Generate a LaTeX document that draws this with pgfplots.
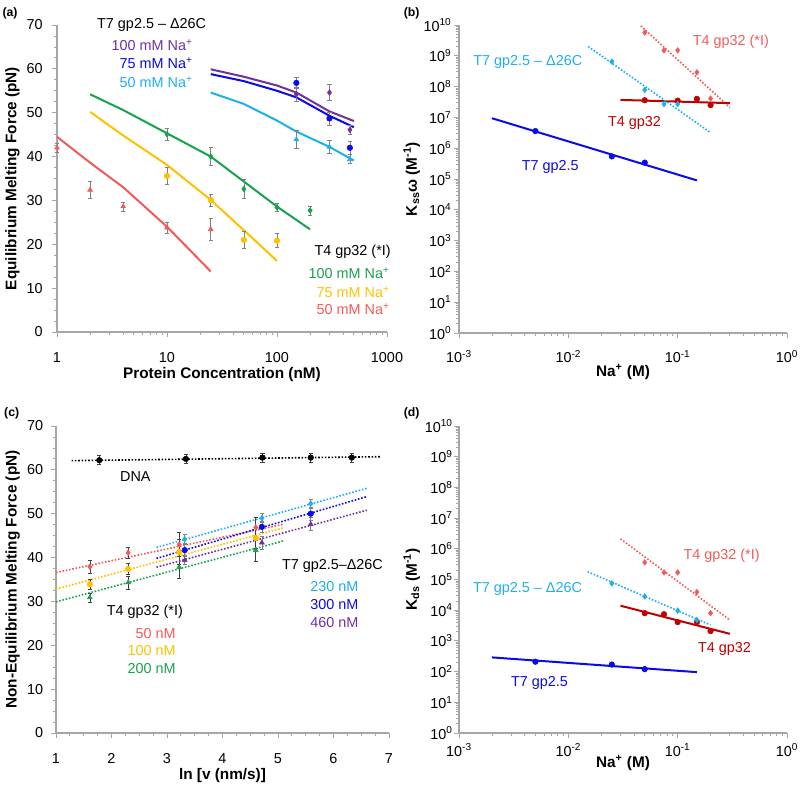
\documentclass[border=0pt]{standalone}
\usepackage{fontspec}
\setmainfont{Liberation Sans}
\usepackage{pgfplots}
\pgfplotsset{compat=1.18}
\definecolor{cpur}{HTML}{7030A0}
\definecolor{cblu}{HTML}{0A0AEB}
\definecolor{ccya}{HTML}{1CB0EC}
\definecolor{cgrn}{HTML}{17A24B}
\definecolor{cyel}{HTML}{FFC000}
\definecolor{cred}{HTML}{F25A5A}
\definecolor{cdred}{HTML}{C00000}
\definecolor{caxis}{HTML}{A6A6A6}
\newcommand{\tf}{\fontsize{10.8}{12}\selectfont}
\newcommand{\lf}{\fontsize{11.5}{13}\selectfont\bfseries}
\newcommand{\Na}{Na\textsuperscript{+}}
\newcommand{\sq}[1]{10\textsuperscript{#1}}
\tikzset{ann/.style={font=\tf, inner sep=0pt}}
\pgfplotsset{
  base/.style={scale only axis, anchor=south west, clip=false,
    axis x line*=bottom, axis y line*=left,
    axis line style={caxis, line width=0.8pt},
    tick style={caxis, line width=0.6pt},
    tick align=outside, major tick length=4pt, minor tick length=2.5pt,
    ticklabel style={font=\tf, text=black},
    /pgf/number format/assume math mode=true,
    label style={font=\lf},
    xticklabel style={anchor=north, inner sep=0pt},
    yticklabel style={anchor=east, inner sep=0pt},
  },
  logticks/.style={xmin=1e-3, xmax=1,
    xtick={1e-3,1e-2,1e-1,1}, xticklabels={\sq{-3},\sq{-2},\sq{-1},\sq{0}},
    minor xtick={2e-3,3e-3,4e-3,5e-3,6e-3,7e-3,8e-3,9e-3,0.02,0.03,0.04,0.05,0.06,0.07,0.08,0.09,0.2,0.3,0.4,0.5,0.6,0.7,0.8,0.9},
    ymin=1, ymax=1e10,
    ytick={1,1e1,1e2,1e3,1e4,1e5,1e6,1e7,1e8,1e9,1e10},
    yticklabels={\sq{0},\sq{1},\sq{2},\sq{3},\sq{4},\sq{5},\sq{6},\sq{7},\sq{8},\sq{9},\sq{10}},
    minor ytick={2,3,4,5,6,7,8,9,20,30,40,50,60,70,80,90,200,300,400,500,600,700,800,900,2e3,3e3,4e3,5e3,6e3,7e3,8e3,9e3,2e4,3e4,4e4,5e4,6e4,7e4,8e4,9e4,2e5,3e5,4e5,5e5,6e5,7e5,8e5,9e5,2e6,3e6,4e6,5e6,6e6,7e6,8e6,9e6,2e7,3e7,4e7,5e7,6e7,7e7,8e7,9e7,2e8,3e8,4e8,5e8,6e8,7e8,8e8,9e8,2e9,3e9,4e9,5e9,6e9,7e9,8e9,9e9},
    xlabel={\Na\ (M)},
  },
  fitl/.style={line width=1.5pt},
  dotl/.style={line width=1.2pt, dash pattern=on 1.2pt off 1.3pt},
  mk/.style={only marks, mark size=2.1pt},
  eb/.style={error bars/.cd, y dir=both, y explicit, error bar style={#1, line width=0.5pt}, error mark options={#1, line width=0.5pt, mark size=1.6pt, rotate=90}},
}
\begin{document}
\begin{tikzpicture}
% ---------------- (a)
\begin{axis}[base, at={(42.75pt,340.5pt)}, width=247.5pt, height=230.25pt,
  xmode=log, xmin=1, xmax=1000, xtick={1,10,100,1000}, xticklabels={1,10,100,1000},
  minor xtick={2,3,4,5,6,7,8,9,20,30,40,50,60,70,80,90,200,300,400,500,600,700,800,900},
  ymin=0, ymax=70, ytick={0,10,...,70}, minor y tick num=3,
  xticklabel style={yshift=-11.25pt}, yticklabel style={xshift=-6.5pt},
  xlabel={Protein Concentration (nM)}, ylabel={Equilibrium Melting Force (pN)},
  xlabel style={at={(axis description cs:0.5,-0.137)}, anchor=center},
  ylabel style={at={(axis description cs:-0.135,0.5)}, anchor=center},
]
\addplot[cred, fitl] coordinates {(1,44.5)(2,38.6)(4,33.0)(10,24.0)(25,13.8)};
\addplot[cyel, fitl] coordinates {(2,50.2)(4,44.8)(10,38.1)(25,30.1)(50,23.2)(100,16.2)};
\addplot[cgrn, fitl] coordinates {(2,54.2)(4,50.6)(10,45.3)(25,40.0)(50,34.3)(100,28.6)(200,23.4)};
\addplot[cpur, fitl] coordinates {(25,59.9)(50,58.2)(100,56.2)(150,54.6)(300,50.3)(500,48.1)};
\addplot[cblu, fitl] coordinates {(25,58.8)(50,57.2)(100,55.0)(150,53.5)(300,49.3)(500,46.7)};
\addplot[ccya, fitl] coordinates {(25,54.6)(50,52.0)(100,48.2)(150,45.7)(300,42.2)(500,39.1)};
\addplot[mk, mark=triangle*, cred, eb=gray] table[y error=e] {
x y e
1 42.0 1.1
2 32.4 2.0
4 28.6 1.0
10 23.8 1.2
25 23.4 2.6
};
\addplot[mk, mark=*, cyel, eb=gray] table[y error=e] {
x y e
10 35.6 2.0
25 30.1 1.4
50 21.0 2.0
100 20.8 1.6
};
\addplot[mk, mark=diamond*, cgrn, eb=gray] table[y error=e] {
x y e
10 45.1 1.4
25 40.0 2.0
50 32.6 2.2
100 28.4 1.0
200 27.7 1.0
};
\addplot[mk, mark=diamond*, cpur, eb=gray] table[y error=e] {
x y e
150 54.2 1.5
300 54.6 1.8
460 46.1 1.0
};
\addplot[mk, mark=*, cblu, eb=gray] table[y error=e] {
x y e
150 56.8 1.3
300 48.7 1.5
460 42.0 1.5
};
\addplot[mk, mark=triangle*, ccya, eb=gray] table[y error=e] {
x y e
150 43.9 2.0
300 42.2 1.5
460 39.4 1.0
};
\node[ann, anchor=west] at (rel axis cs:0.121,1.0) {T7 gp2.5 – Δ26C};
\node[ann, anchor=east, text=cpur] at (rel axis cs:0.412,0.935) {100 mM \Na};
\node[ann, anchor=east, text=cblu] at (rel axis cs:0.412,0.876) {75 mM \Na};
\node[ann, anchor=east, text=ccya] at (rel axis cs:0.412,0.814) {50 mM \Na};
\node[ann, anchor=east] at (rel axis cs:1.012,0.261) {T4 gp32 (*I)};
\node[ann, anchor=east, text=cgrn] at (rel axis cs:1.009,0.192) {100 mM \Na};
\node[ann, anchor=east, text=cyel] at (rel axis cs:1.009,0.130) {75 mM \Na};
\node[ann, anchor=east, text=cred] at (rel axis cs:1.009,0.075) {50 mM \Na};
\end{axis}
% ---------------- (b)
\begin{axis}[base, xmode=log, ymode=log, logticks, at={(344.25pt,339.75pt)}, width=246pt, height=231pt,
  xticklabel style={yshift=-9pt}, yticklabel style={xshift=-1.5pt},
  ylabel={K\textsubscript{ss}ω (M\textsuperscript{-1})},
  xlabel style={at={(axis description cs:0.5,-0.126)}, anchor=center},
  ylabel style={at={(axis description cs:-0.144,0.5)}, anchor=center},
]
\addplot[cred, dotl] coordinates {(0.046,9.3e9)(0.3,2.1e7)};
\addplot[cdred, fitl] coordinates {(0.03,3.7e7)(0.3,2.9e7)};
\addplot[ccya, dotl] coordinates {(0.0152,2e9)(0.2,3.2e6)};
\addplot[cblu, fitl] coordinates {(0.002,9.4e6)(0.15,9e4)};
\addplot[mk, mark=diamond*, cred] coordinates {(0.05,5.7e9)(0.075,1.5e9)(0.1,1.5e9)(0.15,2.9e8)(0.2,4.1e7)};
\addplot[mk, mark=*, cdred] coordinates {(0.05,3.6e7)(0.1,3.5e7)(0.15,4.0e7)(0.2,2.5e7)};
\addplot[mk, mark=diamond*, ccya] coordinates {(0.025,6.5e8)(0.05,7.8e7)(0.075,2.7e7)(0.1,2.7e7)};
\addplot[mk, mark=*, cblu] coordinates {(0.005,3.6e6)(0.025,5.4e5)(0.05,3.4e5)};
\node[ann, anchor=west, text=cred] at (rel axis cs:0.712,0.944) {T4 gp32 (*I)};
\node[ann, anchor=west, text=ccya] at (rel axis cs:0.043,0.879) {T7 gp2.5 – Δ26C};
\node[ann, anchor=west, text=cdred] at (rel axis cs:0.454,0.683) {T4 gp32};
\node[ann, anchor=west, text=cblu] at (rel axis cs:0.191,0.540) {T7 gp2.5};
\end{axis}
% ---------------- (c)
\begin{axis}[base, at={(42pt,39.75pt)}, width=249.75pt, height=230.25pt,
  xmin=1, xmax=7, xtick={1,...,7}, minor x tick num=3,
  ymin=0, ymax=70, ytick={0,10,...,70}, minor y tick num=3,
  xticklabel style={yshift=-11pt}, yticklabel style={xshift=-5.5pt},
  xlabel={ln [v (nm/s)]}, ylabel={Non-Equilibrium Melting Force (pN)},
  xlabel style={at={(axis description cs:0.5,-0.137)}, anchor=center},
  ylabel style={at={(axis description cs:-0.130,0.5)}, anchor=center},
]
\addplot[black, dotl] coordinates {(1.28,62.1)(6.84,63.0)};
\addplot[cred, dotl] coordinates {(1.0,36.6)(5.1,47.6)};
\addplot[cyel, dotl] coordinates {(1.0,32.8)(5.1,46.8)};
\addplot[cgrn, dotl] coordinates {(1.0,29.9)(5.1,43.8)};
\addplot[ccya, dotl] coordinates {(2.81,42.3)(6.60,55.8)};
\addplot[cblu, dotl] coordinates {(2.81,39.8)(6.60,53.9)};
\addplot[cpur, dotl] coordinates {(2.81,37.8)(6.60,50.8)};
\addplot[mk, mark=*, black, eb=darkgray] table[y error=e] {
x y e
1.78 62.2 1.0
3.34 62.5 1.0
4.72 62.8 1.0
5.59 62.8 1.0
6.33 62.8 1.0
};
\addplot[mk, mark=diamond*, cred, eb=darkgray] table[y error=e] {
x y e
1.61 37.9 1.5
2.30 41.1 1.2
3.22 43.0 2.8
4.60 46.9 2.2
};
\addplot[mk, mark=*, cyel, eb=darkgray] table[y error=e] {
x y e
1.61 33.9 1.2
2.30 37.4 1.2
3.22 41.3 2.8
4.60 44.5 2.5
};
\addplot[mk, mark=triangle*, cgrn, eb=darkgray] table[y error=e] {
x y e
1.61 30.9 1.0
2.30 34.3 1.5
3.22 37.8 2.5
4.60 41.7 2.5
};
\addplot[mk, mark=diamond*, ccya, eb=gray] table[y error=e] {
x y e
3.32 44.2 1.2
4.71 49.0 1.0
5.59 52.3 1.0
};
\addplot[mk, mark=*, cblu, eb=gray] table[y error=e] {
x y e
3.32 41.7 1.5
4.71 47.0 1.2
5.59 50.0 1.5
};
\addplot[mk, mark=triangle*, cpur, eb=gray] table[y error=e] {
x y e
3.32 39.4 1.0
4.71 43.4 1.5
5.59 47.6 1.5
};
\node[ann, anchor=west] at (rel axis cs:0.192,0.835) {DNA};
\node[ann, anchor=west] at (rel axis cs:0.152,0.395) {T4 gp32 (*I)};
\node[ann, anchor=east, text=cred] at (rel axis cs:0.360,0.325) {50 nM};
\node[ann, anchor=east, text=cyel] at (rel axis cs:0.360,0.267) {100 nM};
\node[ann, anchor=east, text=cgrn] at (rel axis cs:0.360,0.209) {200 nM};
\node[ann, anchor=west] at (rel axis cs:0.678,0.545) {T7 gp2.5–Δ26C};
\node[ann, anchor=west, text=ccya] at (rel axis cs:0.763,0.477) {230 nM};
\node[ann, anchor=west, text=cblu] at (rel axis cs:0.763,0.419) {300 nM};
\node[ann, anchor=west, text=cpur] at (rel axis cs:0.763,0.361) {460 nM};
\end{axis}
% ---------------- (d)
\begin{axis}[base, xmode=log, ymode=log, logticks, at={(344.25pt,39.75pt)}, width=246pt, height=230.25pt,
  xticklabel style={yshift=-4pt}, yticklabel style={xshift=-0.5pt},
  ylabel={K\textsubscript{ds} (M\textsuperscript{-1})},
  xlabel style={at={(axis description cs:0.5,-0.098)}, anchor=center},
  ylabel style={at={(axis description cs:-0.144,0.5)}, anchor=center},
]
\addplot[cred, dotl] coordinates {(0.03,2.1e6)(0.3,4.8e3)};
\addplot[cdred, fitl] coordinates {(0.03,1.4e4)(0.3,1.7e3)};
\addplot[ccya, dotl] coordinates {(0.015,1.8e5)(0.2,3.3e3)};
\addplot[cblu, fitl] coordinates {(0.002,2.9e2)(0.15,96)};
\addplot[mk, mark=diamond*, cred] coordinates {(0.05,3.6e5)(0.075,1.7e5)(0.1,1.7e5)(0.15,3.9e4)(0.2,8e3)};
\addplot[mk, mark=*, cdred] coordinates {(0.05,8e3)(0.075,7.4e3)(0.1,4.1e3)(0.15,4.1e3)(0.2,2.1e3)};
\addplot[mk, mark=diamond*, ccya] coordinates {(0.025,7.5e4)(0.05,2.8e4)(0.1,9.7e3)(0.15,4.8e3)};
\addplot[mk, mark=*, cblu] coordinates {(0.005,2.1e2)(0.025,1.7e2)(0.05,1.2e2)};
\node[ann, anchor=west, text=cred] at (rel axis cs:0.684,0.578) {T4 gp32 (*I)};
\node[ann, anchor=west, text=ccya] at (rel axis cs:0.042,0.468) {T7 gp2.5 – Δ26C};
\node[ann, anchor=west, text=cdred] at (rel axis cs:0.728,0.273) {T4 gp32};
\node[ann, anchor=west, text=cblu] at (rel axis cs:0.158,0.162) {T7 gp2.5};
\end{axis}
% panel letters
\node[font=\fontsize{9.2}{11}\selectfont\bfseries, inner sep=0pt] at (7.5pt,579.75pt) {(a)};
\node[font=\fontsize{9.2}{11}\selectfont\bfseries, inner sep=0pt] at (308.8pt,579.75pt) {(b)};
\node[font=\fontsize{9.2}{11}\selectfont\bfseries, inner sep=0pt] at (8.8pt,279.5pt) {(c)};
\node[font=\fontsize{9.2}{11}\selectfont\bfseries, inner sep=0pt] at (308.8pt,279.5pt) {(d)};
\pgfresetboundingbox
\path[use as bounding box] (0,0) rectangle (600pt,589.5pt);
\end{tikzpicture}
\end{document}
